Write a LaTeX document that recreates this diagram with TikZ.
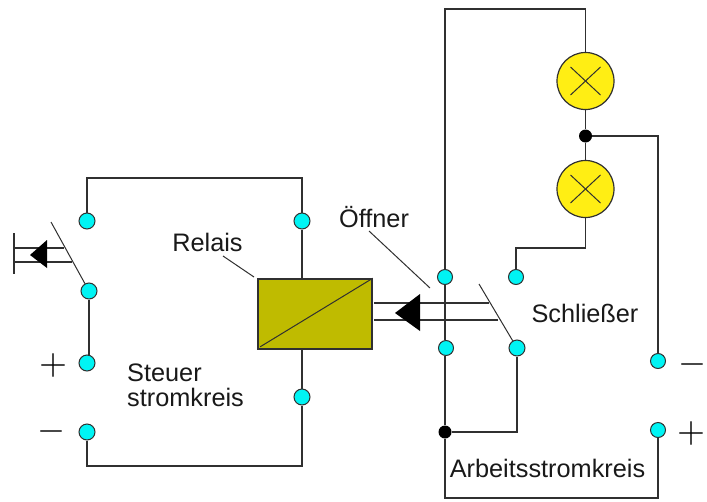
\documentclass[tikz,border=0pt]{standalone}
\usepackage{fontspec}
\setmainfont{Liberation Sans}
\usepackage{xcolor}
\usetikzlibrary{positioning}
\definecolor{klemmecol}{HTML}{00F4F4}
\definecolor{lampecol}{HTML}{FFEE14}
\definecolor{relaiscol}{HTML}{BFBB00}
\definecolor{drahtcol}{HTML}{303030}
\newcommand{\lbl}{\fontsize{25.3}{30}\selectfont}

\begin{document}
\begin{tikzpicture}[x=1pt,y=-1pt,
                          draht/.style={line width=1.8pt, drahtcol},
                          duenn/.style={line width=1pt, drahtcol},
                          klemme/.style={circle, draw=drahtcol, line width=1pt, fill=klemmecol, minimum size=16pt, inner sep=0pt},
                          punkt/.style={circle, fill=black, minimum size=13pt, inner sep=0pt},
                          lampe/.style={circle, draw=drahtcol, line width=1.2pt, fill=lampecol, minimum size=57pt, inner sep=0pt},
                          relais/.style={draw=drahtcol, line width=1.5pt, fill=relaiscol, minimum width=114pt, minimum height=70pt, inner sep=0pt},
                          beschr/.style={inner sep=0pt, font=\lbl, text=black!90},
                          zeichen/.style={inner sep=0pt, text=black, scale=3.6},
                         ]

\useasboundingbox (0,0) rectangle (707,501);

% Steuerstromkreis
\node[klemme] (s1) at (87,221) {};
\node[klemme] (s2) at (89,291) {};
\node[klemme] (s3) at (87,363) {};
\node[klemme] (s4) at (87,432) {};
\node[klemme] (s5) at (302,221) {};
\node[klemme] (s6) at (302,397) {};
\node[relais] (rel) at (315,314) {};

\coordinate (st) at (195,178);
\coordinate (sb) at (195,466);
\draw[draht] (s1) |- (st) -| (s5);
\draw[draht] (s4) |- (sb) -| (s6);
\draw[draht] (s2) -- (s2|-s3.north);
\draw[draht] (s5) -- (s5|-rel.north);
\draw[draht] (s6) -- (s6|-rel.south);
\draw[duenn] ([shift={(3,-3)}]rel.south west) -- (rel.north east);

% Taster
\coordinate (t0) at (51,222);
\coordinate (ta) at (14,248);
\coordinate (tb) at (14,262);
\coordinate (tc) at (64,248);
\coordinate (td) at (72,262);
\coordinate (te) at (14,233);
\coordinate (tf) at (14,274);
\draw[duenn] (t0) -- (s2);
\draw[draht] (te) -- (tf);
\draw[duenn,line width=1.4pt] (ta) -- (tc);
\draw[duenn,line width=1.4pt] (tb) -- (td);
\fill[black] (30,255) -- (47,240) -- (47,268) -- cycle;

% Arbeitsstromkreis
\node[klemme,minimum size=15pt] (a1) at (445,277) {};
\node[klemme,minimum size=15pt] (a2) at (446,348) {};
\node[klemme,minimum size=15pt] (a3) at (516,277) {};
\node[klemme] (a4) at (517,348) {};
\node[klemme,minimum size=15pt] (a5) at (658,361) {};
\node[klemme,minimum size=15pt] (a6) at (658,430) {};
\node[punkt] (j1) at (445,432) {};
\node[punkt] (j2) at (585.5,136) {};
\node[lampe] (l1) at (585.5,81) {};
\node[lampe] (l2) at (585.5,189) {};

\coordinate (ao) at (515,9);
\coordinate (au) at (550,498);
\coordinate (am) at (550,248);
\coordinate (ar) at (658,136);
\coordinate (ax) at (517,432);

\draw[draht] (a1) |- (ao) -| (l1);
\draw[draht] (l1) -- (j2);
\draw[draht] (j2) -- (l2);
\draw[draht] (l2) |- (am) -| (a3);
\draw[draht] (j2) -- (ar) -- (a5);
\draw[draht] (a1) -- (a1|-a2.north);
\draw[draht] (j1) -- (j1|-a2.south);
\draw[draht] (j1) -- (ax) -- (a4);
\draw[draht] (j1) |- (au) -| (a6);

\foreach \n in {l1,l2} {
  \draw[duenn] ([shift={(-15,-14)}]\n.center) -- ([shift={(15,14)}]\n.center);
  \draw[duenn] ([shift={(-15,14)}]\n.center) -- ([shift={(15,-14)}]\n.center);
}

% Schliesser und Oeffner
\coordinate (k0) at (479,284);
\coordinate (ka) at (374,303);
\coordinate (kb) at (374,320);
\coordinate (kc) at (489,303);
\coordinate (kd) at (498,320);
\draw[duenn] (k0) -- (a4);
\draw[duenn,line width=1.4pt] (ka) -- (kc);
\draw[duenn,line width=1.4pt] (kb) -- (kd);
\fill[black] (395,313) -- (420,294) -- (420,331) -- cycle;

% Beschriftung
\node[beschr] (trel) at (207.5,242) {Relais};
\node[beschr] (toef) at (374,217) {Öffner};
\node[beschr] (tsch) at (585,313) {Schließer};
\node[beschr] (tarb) at (547.5,468) {Arbeitsstromkreis};
\node[beschr,anchor=west] (tst1) at (127,373) {Steuer};
\node[beschr,anchor=west] (tst2) at (127,397) {stromkreis};
\node[zeichen] (zp1) at (53,365) {$+$};
\node[zeichen] (zm1) at (52,431) {$-$};
\node[zeichen] (zm2) at (692.5,364) {$-$};
\node[zeichen] (zp2) at (691,433) {$+$};

\coordinate (h1) at (223,256);
\coordinate (h2) at (254,277);
\coordinate (h3) at (369,231);
\coordinate (h4) at (430,288);
\draw[duenn] (h1) -- (h2);
\draw[duenn] (h3) -- (h4);

\end{tikzpicture}
\end{document}
